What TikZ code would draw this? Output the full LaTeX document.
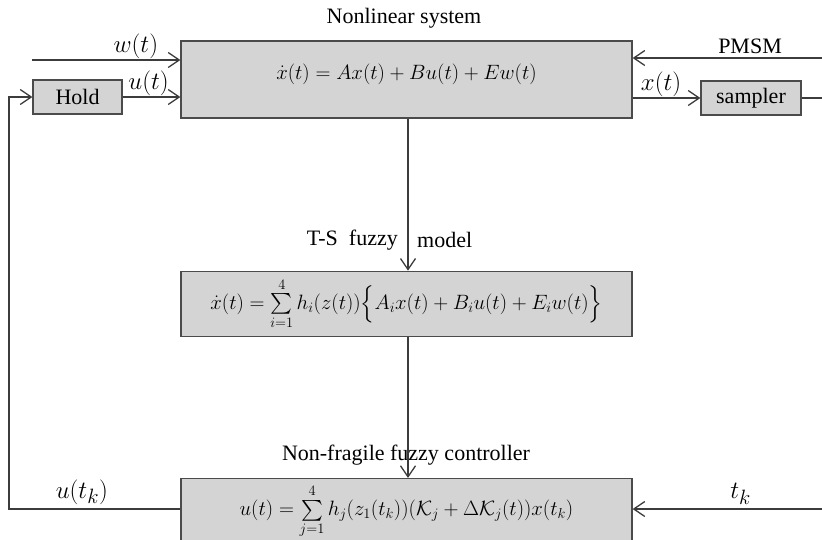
\RequirePackage{fix-cm}
\documentclass[tikz,border=0pt]{standalone}
\usepackage{amsmath}
\usepackage{fontspec}
\setmainfont{Liberation Serif}
\usetikzlibrary{arrows.meta,positioning,calc}

\definecolor{boxgray}{RGB}{212,212,212}
\definecolor{edgegray}{RGB}{75,75,75}
\definecolor{linegray}{RGB}{60,60,60}

\begin{document}
\begin{tikzpicture}[x=1pt, y=-1pt,
    sysbox/.style={rectangle, draw=edgegray, line width=1.3pt, fill=boxgray, minimum width=451pt, text centered, font=\fontsize{20.74}{25}\selectfont},
    smallbox/.style={rectangle, draw=edgegray, line width=1.3pt, fill=boxgray, minimum height=34pt, font=\fontsize{22}{26}\selectfont},
    lbl/.style={inner sep=1pt, font=\fontsize{22}{26}\selectfont},
    sig/.style={inner sep=1pt, font=\fontsize{24.88}{28}\selectfont},
    arrow/.style={-{Straight Barb[length=11pt,width=15pt]}, line width=1.3pt, draw=linegray}
]
\clip (0,0) rectangle (822,539);

\node[sysbox, minimum height=77pt, text depth=16pt] (sys) at (406.5,79.5) {$\dot{x}(t)=Ax(t)+Bu(t)+Ew(t)$};
\node[sysbox, minimum height=65pt, below=152pt of sys] (model) {$\dot{x}(t)=\sum\limits_{i=1}^{4}h_i(z(t))\Big\{A_ix(t)+B_iu(t)+E_iw(t)\Big\}$};
\node[sysbox, minimum height=66pt, below=141pt of model] (ctrl) {$u(t)=\sum\limits_{j=1}^{4}h_j(z_1(t_k))(\mathcal{K}_j+\Delta\mathcal{K}_j(t))x(t_k)$};

\node[smallbox, minimum width=89pt] (hold) at (77.5,97) {Hold};
\node[smallbox, minimum width=100pt] (sampler) at (751,98) {sampler};

% free ends
\coordinate (wIn) at (32,60);
\coordinate (pIn) at (822,58);
\coordinate (sOut) at (822,98);
\coordinate (tIn) at (822,509);
\coordinate (fbTop) at (9,97);

% titles
\node[lbl] (sysTitle) at (404,18) {Nonlinear system};
\node[lbl, anchor=east] (tsLeft) at (399,240) {T-S\ \ fuzzy};
\node[lbl, anchor=west] (tsRight) at (416,240) {model};
\node[lbl] (ctrlTitle) at (406,455) {Non-fragile fuzzy controller};

% signals
\draw[arrow] (wIn) -- (wIn -| sys.west) node[sig, pos=0.70, above] (wLbl) {$w(t)$};
\draw[arrow] (hold.east) -- (hold.east -| sys.west) node[sig, pos=0.45, above] (uLbl) {$u(t)$};
\draw[arrow] (pIn) -- (pIn -| sys.east) node[lbl, pos=0.38, above=3pt] (pLbl) {PMSM};
\draw[arrow] (sampler.west -| sys.east) -- (sampler.west) node[sig, pos=0.42, above] (xLbl) {$x(t)$};
\draw[line width=1.3pt, draw=linegray] (sampler.east) -- (sOut);

\draw[arrow] (sys.south -| 408,0) -- (model.north -| 408,0);
\draw[arrow] (model.south -| 408,0) -- (ctrl.north -| 408,0);

\draw[arrow] (tIn) -- (tIn -| ctrl.east) node[sig, pos=0.43, above=3pt] (tLbl) {$t_k$};
\draw[arrow] (ctrl.west |- tIn) -- (tIn -| fbTop) node[sig, pos=0.575, above=3pt] (ukLbl) {$u(t_k)$} -- (fbTop) -- (fbTop -| hold.west);

\end{tikzpicture}
\end{document}
